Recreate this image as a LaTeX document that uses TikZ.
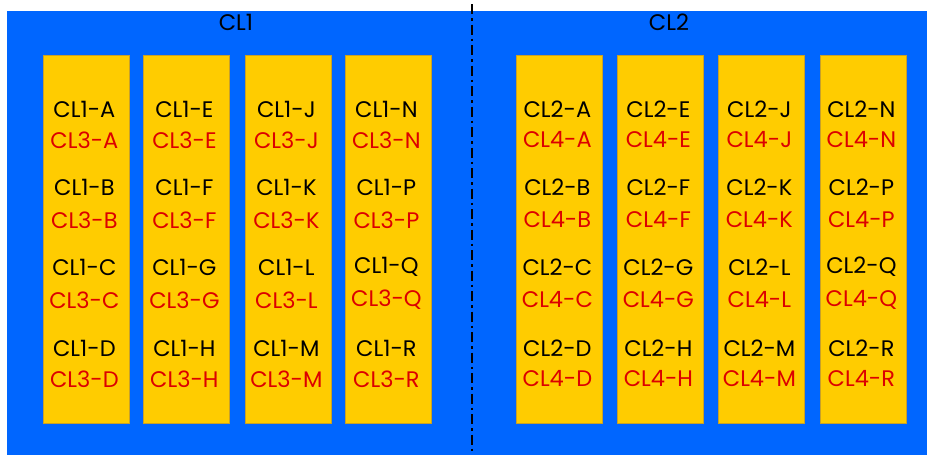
\documentclass[tikz,border=0pt]{standalone}
\usepackage{fontspec}
\setmainfont{Poppins}
\definecolor{bgblue}{RGB}{0,102,255}
\definecolor{coly}{RGB}{255,204,0}
\definecolor{colb}{RGB}{200,160,40}
\definecolor{redtxt}{RGB}{220,0,0}
\begin{document}
\begin{tikzpicture}[x=1pt,y=-1pt,
  colbox/.style={draw=colb,line width=0.8pt,fill=coly,minimum width=86pt,minimum height=368pt,inner sep=0pt,anchor=north west},
  lblk/.style={text=black,font=\fontsize{22.5}{26}\selectfont,inner sep=0pt},
  lred/.style={text=redtxt,font=\fontsize{22.5}{26}\selectfont,inner sep=0pt},
  ttl/.style={text=black,font=\fontsize{22.5}{26}\selectfont,inner sep=0pt},
  divider/.style={line width=1.8pt,dash pattern=on 10pt off 4pt on 2.5pt off 4pt}]
\useasboundingbox (0,0) rectangle (927,455);
\fill[white] (0,0) rectangle (927,455);
\fill[bgblue] (7,11) rectangle (927,455);
\node[ttl] (t1) at (236,22) {CL1};
\node[ttl] (t2) at (669,22) {CL2};
\foreach \x/\n in {43/1,143/2,245/3,345/4,516/5,617/6,718/7,820/8}{
  \node[colbox] (c\n) at (\x,55) {};
}
\coordinate (dtop) at (472.3,4);
\coordinate (dbot) at (472.3,455);
\draw[divider] (dtop) -- (dbot);
\foreach \n/\a/\b/\c/\d in {1/A/B/C/D,2/E/F/G/H,3/J/K/L/M,4/N/P/Q/R}{
  \node[lblk] (k\n a) at ([xshift=-2pt,yshift=-54pt]c\n.north) {CL1-\a};
  \node[lred] (r\n a) at ([xshift=-2pt,yshift=-85pt]c\n.north) {CL3-\a};
  \node[lblk] (k\n b) at ([xshift=-2pt,yshift=-132pt]c\n.north) {CL1-\b};
  \node[lred] (r\n b) at ([xshift=-2pt,yshift=-165pt]c\n.north) {CL3-\b};
  \node[lblk] (k\n c) at ([xshift=-2pt,yshift=-212pt]c\n.north) {CL1-\c};
  \node[lred] (r\n c) at ([xshift=-2pt,yshift=-245pt]c\n.north) {CL3-\c};
  \node[lblk] (k\n d) at ([xshift=-2pt,yshift=-293pt]c\n.north) {CL1-\d};
  \node[lred] (r\n d) at ([xshift=-2pt,yshift=-324pt]c\n.north) {CL3-\d};
}
\foreach \n/\a/\b/\c/\d in {5/A/B/C/D,6/E/F/G/H,7/J/K/L/M,8/N/P/Q/R}{
  \node[lblk] (k\n a) at ([xshift=-2pt,yshift=-54pt]c\n.north) {CL2-\a};
  \node[lred] (r\n a) at ([xshift=-2pt,yshift=-85pt]c\n.north) {CL4-\a};
  \node[lblk] (k\n b) at ([xshift=-2pt,yshift=-132pt]c\n.north) {CL2-\b};
  \node[lred] (r\n b) at ([xshift=-2pt,yshift=-165pt]c\n.north) {CL4-\b};
  \node[lblk] (k\n c) at ([xshift=-2pt,yshift=-212pt]c\n.north) {CL2-\c};
  \node[lred] (r\n c) at ([xshift=-2pt,yshift=-245pt]c\n.north) {CL4-\c};
  \node[lblk] (k\n d) at ([xshift=-2pt,yshift=-293pt]c\n.north) {CL2-\d};
  \node[lred] (r\n d) at ([xshift=-2pt,yshift=-324pt]c\n.north) {CL4-\d};
}
\end{tikzpicture}
\end{document}
